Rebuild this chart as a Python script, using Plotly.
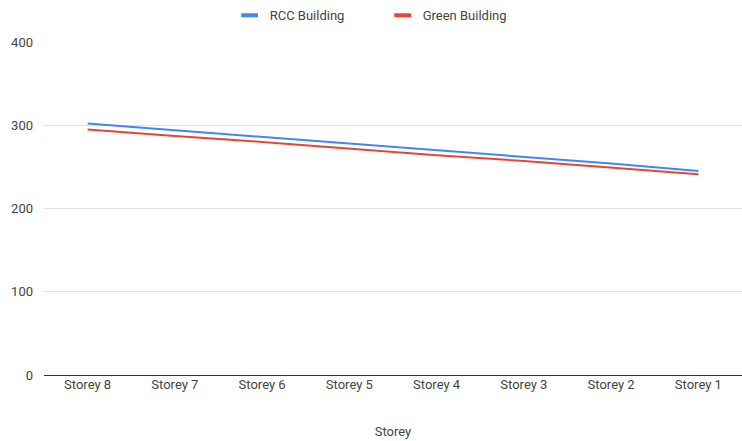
import plotly.graph_objects as go

storeys = ["Storey 8", "Storey 7", "Storey 6", "Storey 5",
           "Storey 4", "Storey 3", "Storey 2", "Storey 1"]
rcc_building = [302, 294, 286, 278, 270, 262, 254, 245]
green_building = [295, 287, 280, 272, 264, 257, 249, 241]
y_ticks = [0, 100, 200, 300, 400]

BLUE = "#4285F4"
RED = "#EA4335"
FONT = "Roboto, Arial, sans-serif"

fig = go.Figure()

fig.add_trace(go.Scatter(x=storeys, y=rcc_building, mode="lines",
                         line=dict(color=BLUE, width=2), showlegend=False))
fig.add_trace(go.Scatter(x=storeys, y=green_building, mode="lines",
                         line=dict(color=RED, width=2), showlegend=False))

# short dash legend keys
for name, color in (("RCC Building", BLUE), ("Green Building", RED)):
    fig.add_trace(go.Scatter(x=[None], y=[None], mode="markers", name=name,
                             marker=dict(symbol="line-ew", size=12,
                                         line=dict(color=color, width=4))))

fig.update_layout(
    width=742, height=441,
    margin=dict(l=44, r=0, t=42, b=66),
    paper_bgcolor="white", plot_bgcolor="white",
    font=dict(family=FONT, size=13, color="#444444"),
    legend=dict(orientation="h", xref="paper", x=0.266,
                xanchor="left", y=1.125, yanchor="top", yref="paper",
                font=dict(size=13, color="#444444"),
                itemwidth=30, entrywidth=108, tracegroupgap=0),
    xaxis=dict(title=dict(text="Storey", font=dict(size=13), standoff=35),
               range=[-0.5, 7.5], automargin=False,
               showgrid=False, showline=False, ticks="",
               tickfont=dict(size=13), zeroline=False),
    yaxis=dict(range=[0, 400], tickvals=y_ticks, showgrid=True,
               automargin=False,
               gridcolor="#e3e3e3", gridwidth=1, zeroline=True,
               zerolinecolor="#333333", zerolinewidth=1,
               showline=False, ticks="", ticklabelstandoff=10,
               tickfont=dict(size=13)),
)

fig.write_html("out.html")
